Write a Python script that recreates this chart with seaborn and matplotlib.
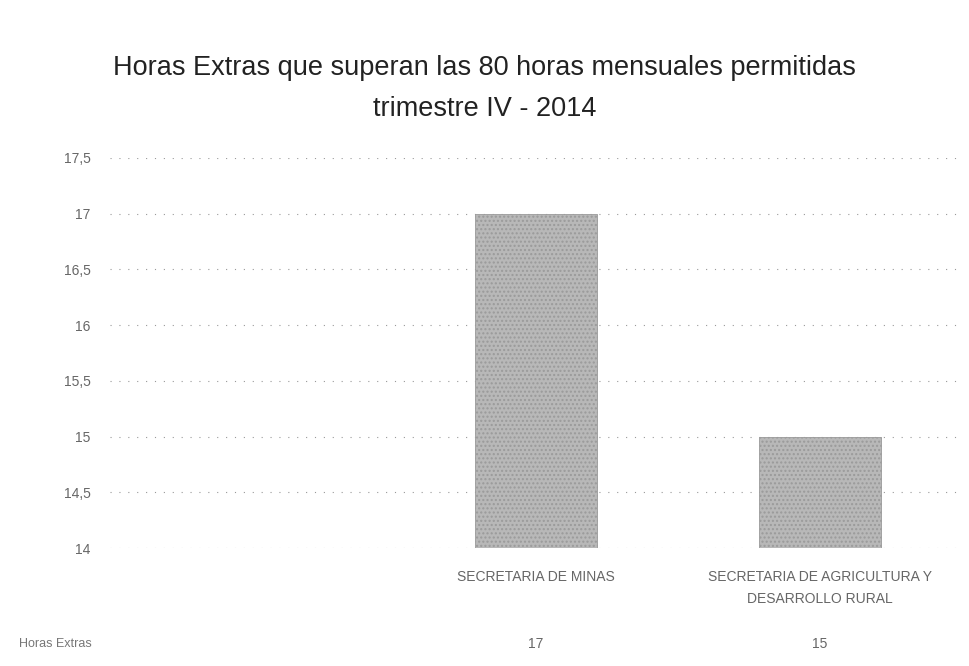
import matplotlib
matplotlib.use("Agg")
import matplotlib.pyplot as plt
import seaborn as sns
import pandas as pd

categories = ["", "SECRETARIA DE MINAS", "SECRETARIA DE AGRICULTURA Y\nDESARROLLO RURAL"]
bar_categories = ["SECRETARIA DE MINAS", "SECRETARIA DE AGRICULTURA Y\nDESARROLLO RURAL"]
bar_values = [17, 15]
table_label = "Horas Extras"
table_values = ["", "17", "15"]
y_ticks = [14, 14.5, 15, 15.5, 16, 16.5, 17, 17.5]
y_tick_labels = ["14", "14,5", "15", "15,5", "16", "16,5", "17", "17,5"]
title = "Horas Extras que superan las 80 horas mensuales permitidas\ntrimestre IV - 2014"

sns.set_theme(style="white")
plt.rcParams["font.family"] = ["Liberation Sans", "DejaVu Sans"]

df = pd.DataFrame({"cat": bar_categories, "val": bar_values})

fig = plt.figure(figsize=(9.69, 6.66), dpi=100)
ax = fig.add_axes([0.1135, 0.177, 0.879, 0.586])
sns.barplot(data=df, x="cat", y="val", order=categories, color="#b8b8b8",
            width=0.43, ax=ax, edgecolor="#9a9a9a", linewidth=0.6, hatch="....")
ax.set_ylim(14, 17.5)
ax.set_xlim(-0.5, 2.5)
ax.set_yticks(y_ticks)
ax.set_yticklabels(y_tick_labels, fontsize=10, color="#666666")
ax.yaxis.grid(True, linestyle=(0, (1, 7)), color="#999999", linewidth=0.8)
ax.set_axisbelow(True)
for s in ax.spines.values():
    s.set_visible(False)
ax.tick_params(axis="y", length=0, pad=14)
ax.tick_params(axis="x", length=0, pad=16)
ax.set_xticks(range(len(categories)))
ax.set_xticklabels(categories, fontsize=10, color="#666666", linespacing=1.7)
ax.set_xlabel("")
ax.set_ylabel("")

# data table row
trans = ax.get_xaxis_transform()
ax.text(-0.82, -0.245, table_label, transform=trans,
        fontsize=9, color="#777777", ha="left", va="center", clip_on=False)
for i, v in enumerate(table_values):
    ax.text(i, -0.245, v, transform=trans, fontsize=10, color="#666666",
            ha="center", va="center", clip_on=False)

fig.suptitle(title, y=0.918, fontsize=19.5, color="#222222", linespacing=1.75)

fig.savefig("out.png", dpi=100, facecolor="white")
